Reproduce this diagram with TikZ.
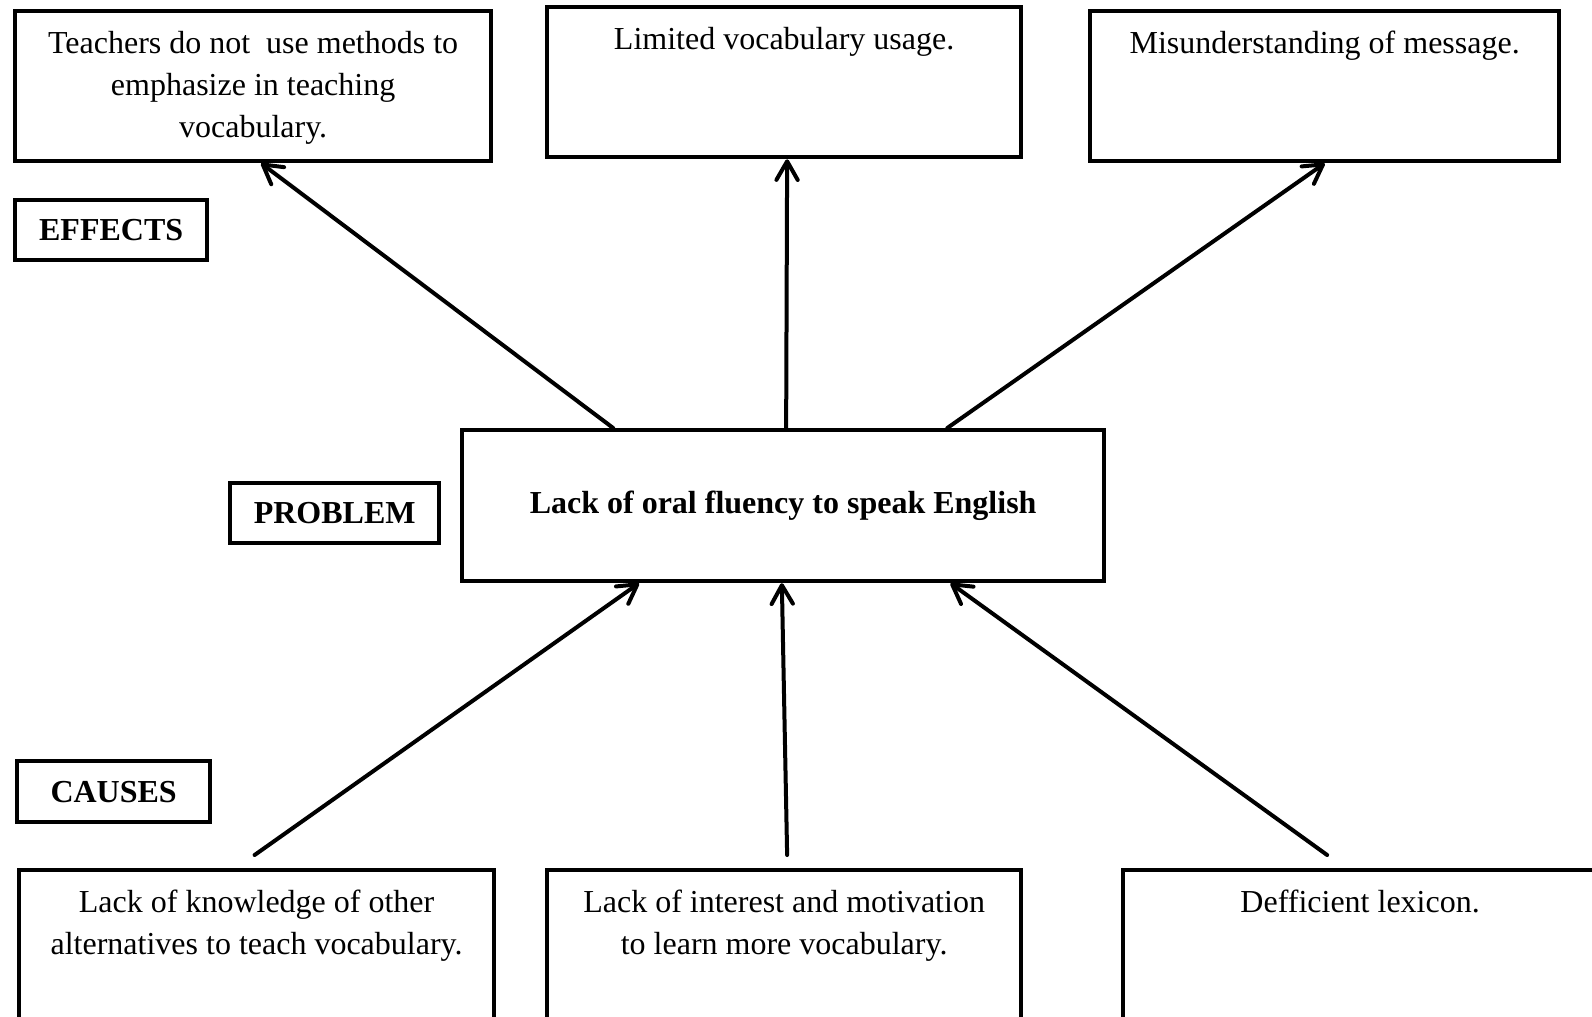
\documentclass[tikz,border=0pt]{standalone}
\usepackage{fontspec}
\setmainfont{Liberation Serif}
\usetikzlibrary{arrows.meta, positioning, calc}

\begin{document}
\begin{tikzpicture}[
  x=0.375pt, y=-0.375pt,
  box/.style={draw=black, line width=1.6pt, anchor=north west, inner sep=0pt, minimum height=56.25pt},
  tag/.style={draw=black, line width=1.6pt, anchor=north west, inner sep=0pt, minimum height=22.5pt, font=\fontsize{12}{15.75}\selectfont\bfseries},
  txt/.style={align=center, inner sep=0pt, font=\fontsize{12}{15.75}\selectfont},
  arr/.style={-{Straight Barb[length=7pt, width=8pt, round]}, line width=1.5pt, line cap=round}
]
\clip (0,0) rectangle (1592,1016);

% Row 1: effects
\node[box, minimum width=178.5pt] (eff1) at (13,9) {};
\node[box, minimum width=177.75pt] (eff2) at (545,5) {};
\node[box, minimum width=175.9pt] (eff3) at (1088,9) {};
\node[txt, below=8.2pt of eff1.north] (eff1txt) {Teachers do not\ \ use methods to\\emphasize in teaching\\vocabulary.};
\node[txt, below=8.2pt of eff2.north] (eff2txt) {Limited vocabulary usage.};
\node[txt, below=8.2pt of eff3.north] (eff3txt) {Misunderstanding of message.};

% Row 2: problem
\node[tag, minimum width=72pt] (lbleff) at (13,198) {EFFECTS};
\node[tag, minimum width=78.4pt] (lblprob) at (228,481) {PROBLEM};
\node[box, minimum width=240.75pt, minimum height=56.6pt, font=\fontsize{12}{15.75}\selectfont\bfseries] (prob) at (460,428) {Lack of oral fluency to speak English};

% Row 3: causes
\node[tag, minimum width=72.4pt, minimum height=22.9pt] (lblcau) at (15,759) {CAUSES};
\node[box, minimum width=178.1pt] (cau1) at (17,868) {};
\node[box, minimum width=177.75pt] (cau2) at (545,868) {};
\node[box, minimum width=177.75pt] (cau3) at (1121,868) {};
\node[txt, below=8.2pt of cau1.north] (cau1txt) {Lack of knowledge of other\\alternatives to teach vocabulary.};
\node[txt, below=8.2pt of cau2.north] (cau2txt) {Lack of interest and motivation\\to learn more vocabulary.};
\node[txt, below=8.2pt of cau3.north] (cau3txt) {Defficient lexicon.};

\draw[arr] ($(prob.north west)!0.237!(prob.north east)$) -- ($(eff1.south)+(8,0)$);
\draw[arr] ($(prob.north)+(3,0)$) -- ($(eff2.south)+(3,0)$);
\draw[arr] ($(prob.north west)!0.754!(prob.north east)$) -- (eff3.south);
\draw[arr] ($(cau1.north)+(-2,-13)$) -- ($(prob.south west)!0.277!(prob.south east)$);
\draw[arr] ($(cau2.north)+(3,-13)$) -- ($(prob.south west)!0.498!(prob.south east)$);
\draw[arr] ($(cau3.north)+(-33,-13)$) -- ($(prob.south west)!0.759!(prob.south east)$);

\end{tikzpicture}
\end{document}
